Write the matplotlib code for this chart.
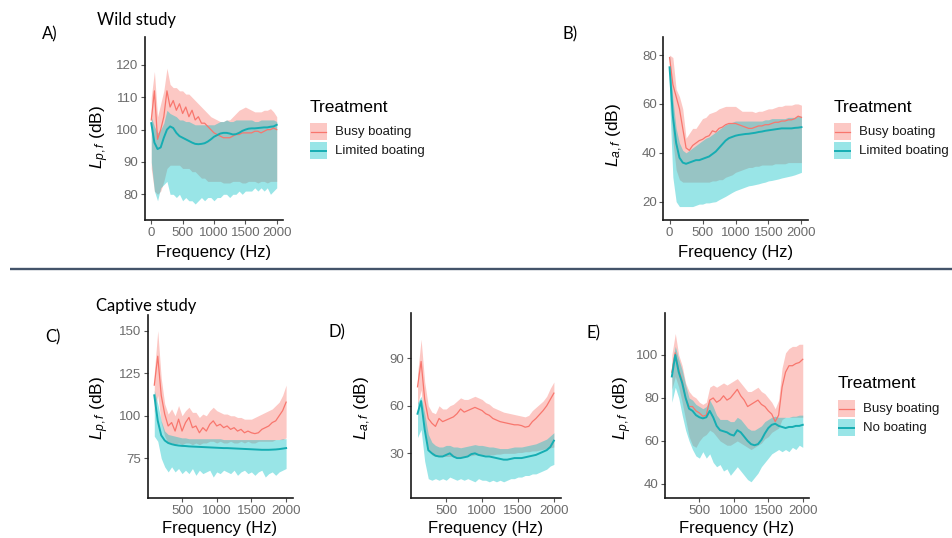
import numpy as np
import matplotlib.pyplot as plt
from matplotlib.patches import Rectangle

plt.rcParams['font.family'] = ['Liberation Sans', 'DejaVu Sans']
plt.rcParams['mathtext.fontset'] = 'custom'
plt.rcParams['mathtext.it'] = 'Liberation Sans:italic'
plt.rcParams['mathtext.rm'] = 'Liberation Sans'

# ---------------- data ----------------
# Wild study: spectra sampled every 50 Hz from 0 to 2000 Hz
freq_wild = np.arange(0, 2001, 50)
# Captive study: spectra sampled every 50 Hz from 100 to 2000 Hz
freq_captive = np.arange(100, 2001, 50)

# A) sound pressure, wild study
A_busy_mean = [103, 112, 97, 100, 104, 112, 107, 109, 106, 108, 105, 107, 104, 106, 103, 104,
               102, 102, 101, 100, 99, 98.5, 98, 97.5, 97.5, 97.5, 98, 98.5, 98.5, 99, 99, 99,
               99, 99.5, 99.5, 99, 99.5, 100, 100, 100.5, 100]
A_busy_hi = [110, 118, 104, 108, 112, 119, 114, 113, 113, 112, 112, 111, 111, 110, 109, 108,
             107, 106, 105, 104, 103.5, 103, 102.5, 102.5, 103, 103, 104, 105, 106, 106.5, 107,
             106.5, 106, 105.5, 105.5, 105.5, 106, 106, 106.5, 105.5, 104]
A_busy_lo = [88, 81, 80, 81, 84, 88, 89, 89, 89, 89, 88, 88, 88, 87, 87, 86, 85, 85, 84, 84,
             84, 84, 84, 83.5, 83.5, 83.5, 84, 84, 84, 83.5, 83.5, 84, 84, 84, 83.5, 84, 84,
             83.5, 84, 84, 84]
A_lim_mean = [102, 96, 94, 94.5, 97.5, 100, 101, 100.5, 99, 98, 97.5, 97, 96.5, 96, 95.6, 95.5,
              95.6, 95.8, 96.3, 97, 97.8, 98.3, 98.8, 99, 99, 98.8, 98.5, 98.6, 99, 99.6, 100,
              100.3, 100.4, 100.4, 100.5, 100.6, 100.7, 100.7, 100.9, 101, 101.5]
A_lim_hi = [104, 101, 99, 100, 102, 106, 105, 104.5, 104, 103, 103, 102.5, 102.5, 102, 101.5,
            101.5, 101.5, 101.5, 101.5, 101.5, 101.5, 102, 102.5, 102.5, 103, 102.5, 102.5, 103,
            103, 103, 103, 103, 103, 102.5, 102.5, 103, 103, 103, 103, 103, 102.5]
A_lim_lo = [90, 81, 78, 82, 83, 84, 80, 80, 79, 80, 78, 79, 78, 78, 77, 78, 79, 78, 79, 79, 78,
            79, 79, 80, 80, 79, 80, 80, 81, 80, 81, 81, 81, 82, 81, 82, 81, 82, 80, 81, 82]

# B) particle acceleration, wild study
B_busy_mean = [79, 68, 63, 58, 50, 42, 41, 43, 44, 45, 45.5, 46.5, 47, 49, 48.5, 50, 50.5, 51.5,
               52, 52, 52, 51.5, 51, 50.5, 50, 50, 50.5, 51, 51, 51.5, 51.5, 52, 52.5, 52.5, 53,
               53, 53.5, 53.5, 54, 55, 54.5]
B_busy_hi = [80, 79, 66, 63, 58, 46, 48, 50, 50, 52, 54, 54.5, 56, 56.5, 57, 58, 58.5, 59, 59,
             59, 59, 58, 57, 57, 57, 57, 56.5, 57, 57, 57.5, 58, 58, 58.5, 59, 59, 59.5, 59.5,
             59.5, 60, 60, 59.5]
B_busy_lo = [70, 45, 33, 29, 28, 28, 28, 28, 28, 28, 28, 28, 28, 28.5, 28.5, 29, 29, 30, 30.5,
             31, 32, 32.5, 33, 33.5, 34, 34, 34.5, 34.5, 35, 35, 35, 35, 35.5, 35.5, 35.5, 35.5,
             36, 36, 36, 36, 36]
B_lim_mean = [75, 55, 44, 38, 36, 35.5, 36, 36.5, 37, 37, 37.5, 38, 38.5, 39.5, 40.5, 42, 43.5,
              45, 46, 46.5, 47, 47.3, 47.5, 47.7, 47.8, 48, 48.2, 48.5, 48.7, 49, 49.2, 49.4,
              49.6, 49.8, 50, 50, 50, 50, 50.2, 50.3, 50.5]
B_lim_hi = [80, 62, 50, 44, 41, 40, 41, 42, 43, 44, 45, 46, 46.5, 47.5, 48.5, 49.5, 50.5, 51.5,
            52, 52.5, 53, 53, 53, 53, 53, 53, 53, 53, 53, 53.5, 53.5, 54, 54, 54, 54, 54, 54.5,
            54.5, 54.5, 55, 55]
B_lim_lo = [62, 30, 20, 18, 18, 18, 18, 18, 18.5, 19, 19, 19.5, 19.5, 19.8, 20, 20.8, 21.5,
            22.2, 23, 23.8, 24.5, 25, 25.5, 26, 26.5, 26.7, 27, 27.3, 27.7, 28, 28.5, 28.7, 29,
            29.3, 29.7, 30, 30.3, 30.6, 31, 31.5, 32]

# C) sound pressure, captive study
C_busy_mean = [118, 135, 112, 101, 94, 96, 91, 98, 91, 96, 99, 93, 94, 90, 93, 91, 95, 97, 94,
               95, 93, 94, 92, 93, 91, 92, 90, 91, 90, 89.5, 90, 92, 93, 94, 96, 97, 100, 103, 108]
C_busy_hi = [125, 150, 122, 107, 101, 104, 100, 106, 100, 103, 105, 102, 102, 99, 101, 100, 103,
             105, 103, 102, 101, 101, 100, 100, 99, 99, 98, 98, 98, 99, 100, 101, 102, 103, 104,
             106, 108, 112, 118]
C_busy_lo = [102, 112, 96, 88, 84, 84, 83, 84, 83, 84, 84, 83, 84, 83, 84, 84, 85, 85, 84, 85,
             84, 84, 85, 84, 84, 85, 84, 85, 84, 84, 85, 85, 85, 85, 85, 86, 86, 86, 87]
C_none_mean = [112, 97, 88.5, 85.5, 84, 83.3, 82.8, 82.5, 82.3, 82.2, 82, 81.9, 81.8, 81.7, 81.6,
               81.5, 81.4, 81.3, 81.2, 81.1, 81, 81, 80.9, 80.8, 80.7, 80.6, 80.5, 80.4, 80.3,
               80.2, 80.1, 80, 80, 80, 80.1, 80.2, 80.4, 80.7, 81]
C_none_hi = [115, 107, 97, 91, 89, 88.5, 88, 87.5, 87, 87, 86.5, 86.5, 86.5, 86.5, 86.5, 86.5,
             86.5, 86.5, 86.5, 86.5, 86, 86, 86, 86, 86, 86, 86, 86, 86, 86, 86, 86, 86, 86, 86,
             86, 86, 86.5, 86.5]
C_none_lo = [88, 85, 75, 70, 67, 70, 67, 69, 66, 68, 66, 69, 65, 68, 66, 67, 68, 64, 67, 66, 68,
             67, 66, 68, 65, 67, 68, 66, 67, 65, 67, 68, 64, 66, 67, 65, 67, 68, 69]

# D) particle acceleration, captive study
D_busy_mean = [72, 88, 64, 52, 49, 47, 52, 50, 51, 52, 53, 55, 58, 56, 57, 58, 59, 58, 57, 55,
               54, 52, 51, 50, 49.5, 49, 48.5, 48, 48, 47.5, 46.5, 47, 50, 52, 54.5, 57, 60, 64, 68]
D_busy_hi = [80, 102, 75, 60, 56, 55, 60, 58, 58, 60, 61, 63, 65, 64, 64, 65, 66, 65, 64, 62, 61,
             59, 58, 57, 56, 55.5, 55, 54.5, 54, 53.5, 53, 54, 57, 59, 61, 63, 66, 71, 75]
D_busy_lo = [60, 70, 45, 33, 29, 28, 28, 28, 28, 28, 28, 28, 28, 28, 28.5, 28.5, 29, 29, 29, 29,
             29, 29, 29.5, 29.5, 30, 30, 30, 30, 30.5, 30.5, 31, 31, 31.5, 31.5, 32, 32.5, 33,
             33.5, 34]
D_none_mean = [55, 63, 45, 32, 30, 28.5, 28, 28, 29, 30, 28, 27, 27, 27.5, 28, 29.5, 30, 29,
               28.5, 28, 28, 27.5, 27, 26.5, 26, 26, 26.5, 27, 27, 27, 27.5, 28, 28.5, 29, 30, 31,
               32, 34, 38]
D_none_hi = [62, 66, 55, 42, 37, 35, 34, 34, 35, 35, 34, 34, 33.5, 34, 34.5, 35, 35.5, 35, 35,
             34.5, 34, 34, 33.5, 33, 33, 33, 33.5, 34, 34, 34, 34.5, 35, 35.5, 36, 37, 38, 39, 41, 43]
D_none_lo = [40, 45, 25, 14, 13, 14, 13, 14, 13, 15, 14, 13, 14, 13, 14, 13, 12, 14, 13, 13, 12,
             13, 12, 13, 12, 13, 14, 14, 15, 15, 16, 16, 17, 17, 18, 19, 20, 22, 23]

# E) sound pressure, captive study (second comparison)
E_busy_mean = [92, 101, 93, 88, 80, 76, 76, 74, 73, 71.5, 72, 79, 80, 78, 79, 81, 79, 80, 82, 84,
               81, 79, 76, 77, 78, 79, 77, 76, 74, 72.5, 69, 72, 85, 92, 95, 95, 96, 96.5, 98]
E_busy_hi = [100, 110, 100, 95, 87, 83, 81, 80, 78, 77, 78, 85, 86, 85, 86, 87, 86, 87, 88, 89,
             87, 85, 83, 83, 84, 85, 83, 82, 80, 78, 75, 79, 94, 101, 103, 104, 104, 105, 105]
E_busy_lo = [84, 90, 85, 78, 70, 62, 58, 57, 60, 62, 63, 65, 64, 62, 60, 59, 58, 58, 59, 60, 59,
             58, 57, 56, 57, 58, 59, 61, 62, 64, 65, 66, 70, 71, 71, 71, 71, 71, 71]
E_none_mean = [90, 100, 92, 87, 80, 75, 74, 72, 71, 70.5, 71, 74, 71, 67, 65, 64.5, 64, 63, 62.5,
               65, 64, 62, 60, 58.5, 58, 58.5, 60.5, 63.5, 66, 67.5, 68, 67, 66.5, 66, 66.5, 66.5,
               67, 67, 67.5]
E_none_hi = [96, 104, 98, 93, 86, 80, 79, 77, 76, 75, 76, 79, 76, 72, 70, 70, 70, 69, 69, 71, 70,
             68, 66, 65, 65, 66, 67, 69, 70, 71, 71.5, 71, 71, 71, 71, 71.5, 71.5, 72, 72]
E_none_lo = [78, 85, 80, 72, 65, 60, 56, 53, 52, 55, 52, 54, 50, 48, 49, 46, 47, 44, 46, 48, 46,
             44, 42, 41, 43, 45, 48, 50, 52, 54, 55, 56, 55, 56, 55, 57, 56, 58, 57]

legend_wild = ['Busy boating', 'Limited boating']
legend_captive = ['Busy boating', 'No boating']

# ---------------- styling ----------------
RED = '#F8766D'
CYAN = '#00BFC4'
TEAL = '#16ADB2'
TICK_GREY = '#6b6b6b'
RIB_ALPHA = 0.4

W, H = 952, 538
fig = plt.figure(figsize=(W / 100, H / 100), dpi=100)


def px_axes(left, top, right, bottom):
    return fig.add_axes([left / W, 1 - bottom / H, (right - left) / W, (bottom - top) / H])


def draw_panel(ax, f, busy, other, xlim, ylim, xticks, yticks):
    b_mean, b_lo, b_hi = busy
    o_mean, o_lo, o_hi = other
    ax.fill_between(f, b_lo, b_hi, color=RED, alpha=RIB_ALPHA, lw=0)
    ax.plot(f, b_mean, color=RED, lw=0.9)
    ax.fill_between(f, o_lo, o_hi, color=CYAN, alpha=RIB_ALPHA, lw=0)
    ax.plot(f, o_mean, color=TEAL, lw=1.4)
    ax.set_xlim(*xlim)
    ax.set_ylim(*ylim)
    ax.set_xticks(xticks)
    ax.set_yticks(yticks)
    ax.set_facecolor('none')
    for s in ('top', 'right'):
        ax.spines[s].set_visible(False)
    for s in ('left', 'bottom'):
        ax.spines[s].set_linewidth(1.2)
        ax.spines[s].set_color('#1a1a1a')
    ax.tick_params(direction='out', length=3, width=0.8, color='#555555',
                   labelcolor=TICK_GREY, labelsize=9.5, pad=1.8)


axA = px_axes(145, 37, 283, 220)
draw_panel(axA, freq_wild, (A_busy_mean, A_busy_lo, A_busy_hi),
           (A_lim_mean, A_lim_lo, A_lim_hi),
           (-100, 2100), (72.05, 128.66), [0, 500, 1000, 1500, 2000], [80, 90, 100, 110, 120])

axB = px_axes(663.3, 37, 807.7, 220)
draw_panel(axB, freq_wild, (B_busy_mean, B_busy_lo, B_busy_hi),
           (B_lim_mean, B_lim_lo, B_lim_hi),
           (-95, 2095), (12.5, 87.4), [0, 500, 1000, 1500, 2000], [20, 40, 60, 80])

axC = px_axes(147.7, 315, 292.7, 498.3)
draw_panel(axC, freq_captive, (C_busy_mean, C_busy_lo, C_busy_hi),
           (C_none_mean, C_none_lo, C_none_hi),
           (5, 2095), (51.5, 159.2), [500, 1000, 1500, 2000], [75, 100, 125, 150])

axD = px_axes(410.7, 313.3, 560.7, 498.3)
draw_panel(axD, freq_captive, (D_busy_mean, D_busy_lo, D_busy_hi),
           (D_none_mean, D_none_lo, D_none_hi),
           (5, 2095), (1.6, 118.4), [500, 1000, 1500, 2000], [30, 60, 90])

axE = px_axes(665.3, 313.3, 809.3, 498.3)
draw_panel(axE, freq_captive, (E_busy_mean, E_busy_lo, E_busy_hi),
           (E_none_mean, E_none_lo, E_none_hi),
           (5, 2095), (33.3, 119.4), [500, 1000, 1500, 2000], [40, 60, 80, 100])

# ---------------- annotations layer (pixel coordinates) ----------------
ov = fig.add_axes([0, 0, 1, 1])
ov.set_xlim(0, W)
ov.set_ylim(H, 0)
ov.axis('off')

LP = r'$L_{p,f}$ (dB)'
LA = r'$L_{a,f}$ (dB)'
for x, y, s in [(100, 137, LP), (615, 135, LA), (100, 408, LP), (363, 408, LA), (623, 408, LP)]:
    ov.text(x, y, s, rotation=90, ha='center', va='center', fontsize=12.5)

for x, y in [(214, 253), (736, 253), (220, 528), (486, 528), (737, 528)]:
    ov.text(x, y, 'Frequency (Hz)', ha='center', va='center', fontsize=12)

PANEL_FONT = ['Lato', 'DejaVu Sans']
for x, y, s in [(42, 34, 'A)'), (562, 34, 'B)'), (45, 337, 'C)'), (328, 332, 'D)'),
                (587, 333, 'E)'), (97, 20, 'Wild study'), (96, 306, 'Captive study')]:
    ov.text(x, y, s, ha='left', va='center', fontsize=12, family=PANEL_FONT)


def draw_legend(x, y_title, y_rows, labels):
    ov.text(x, y_title, 'Treatment', ha='left', va='center', fontsize=12.5)
    styles = [(RED, RED, 0.9), (CYAN, TEAL, 1.4)]
    for yt, lab, (fc, lc, lw) in zip(y_rows, labels, styles):
        ov.add_patch(Rectangle((x, yt), 17, 17, facecolor=fc, alpha=RIB_ALPHA, lw=0))
        ov.plot([x + 1, x + 16], [yt + 8.5, yt + 8.5], color=lc, lw=lw)
        ov.text(x + 25, yt + 9, lab, ha='left', va='center', fontsize=9.5, color='#1a1a1a')


draw_legend(310, 107, [123, 142], legend_wild)
draw_legend(834, 107, [123, 142], legend_wild)
draw_legend(838, 383, [400, 419], legend_captive)

# divider between the two studies
ov.plot([10, 952], [269, 269], color='#44546A', lw=1.7, solid_capstyle='butt')

fig.savefig('out.png', dpi=100)
